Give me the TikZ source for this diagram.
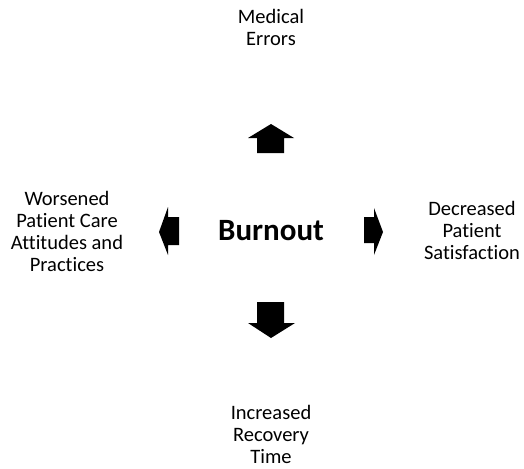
\documentclass[tikz,border=0pt]{standalone}
\usepackage{fontspec}
\setmainfont[Ligatures=NoCommon]{Carlito}
\usetikzlibrary{positioning}
\tikzstyle{effect} = [align=center, font=\fontsize{20.5}{22}\selectfont, inner sep=0pt]
\tikzstyle{core} = [font=\fontsize{31}{34}\selectfont\bfseries, inner sep=0pt]
\tikzstyle{blockarrow} = [fill=black]

\begin{document}
\begin{tikzpicture}[x=1pt,y=-1pt]
            \useasboundingbox (0,0) rectangle (524,468);
            \node [core] at (271,231) (burnout) {Burnout};
            \node [effect] at (271,27) (errors) {Medical\\Errors};
            \node [effect] at (67,231) (care) {Worsened\\Patient Care\\Attitudes and\\Practices};
            \node [effect] at (472,230) (satisf) {Decreased\\Patient\\Satisfaction};
            \node [effect] at (271,434) (recovery) {Increased\\Recovery\\Time};

            % block arrows pointing out of burnout
            \fill [blockarrow] (271,124) -- (294,138) -- (284,138) -- (284,153) -- (257,153) -- (257,138) -- (248,138) -- cycle;
            \fill [blockarrow] (271,338) -- (295,323) -- (284,323) -- (284,302) -- (257,302) -- (257,323) -- (248,323) -- cycle;
            \fill [blockarrow] (159,232) -- (168,207) -- (168,217) -- (179,217) -- (179,245) -- (168,245) -- (168,255) -- cycle;
            \fill [blockarrow] (383,232) -- (374,208) -- (374,217) -- (364,217) -- (364,243) -- (374,243) -- (374,255) -- cycle;
\end{tikzpicture}
\end{document}
